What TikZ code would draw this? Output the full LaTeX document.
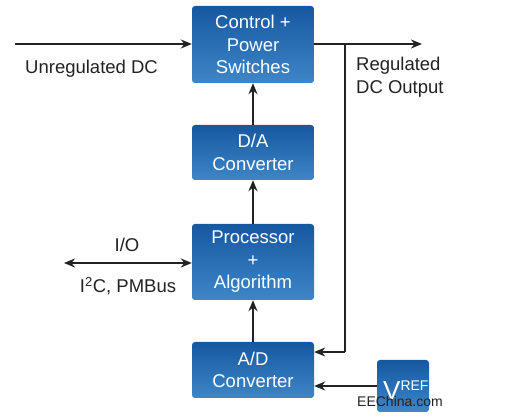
\documentclass[tikz,border=0pt]{standalone}
\usepackage{fontspec}
\setmainfont{Liberation Sans}
\usetikzlibrary{arrows.meta,positioning}
\definecolor{boxtop}{RGB}{22,88,160}
\definecolor{boxbot}{RGB}{62,134,200}
\definecolor{linec}{RGB}{34,34,34}
\tikzset{
  blk/.style={rounded corners=3pt, top color=boxtop, bottom color=boxbot, draw=none,
    text=white, align=center, minimum width=122pt, inner sep=0pt,
    font=\fontsize{18.5}{22.5}\selectfont},
  lbl/.style={text=linec, font=\fontsize{18.5}{22.5}\selectfont, inner sep=0pt},
  con/.style={draw=linec, line width=1.5pt, -{Stealth[length=11pt,width=9pt,inset=3.5pt]}},
  wire/.style={draw=linec, line width=1.5pt}
}
\begin{document}
\begin{tikzpicture}[x=1pt,y=-1pt]
\useasboundingbox (0,0) rectangle (525,419);
\node[blk, minimum height=77pt] (ctrl) at (253,44.5) {Control +\\Power\\Switches};
\node[blk, minimum height=55pt] (da) at (253,152.5) {D/A\\Converter};
\node[blk, minimum height=76pt] (proc) at (253,262) {Processor\\+\\Algorithm};
\node[blk, minimum height=56pt] (ad) at (253,370) {A/D\\Converter};
\node[blk, minimum width=52pt, minimum height=52pt] (vref) at (403,386) {};
\node[text=white, inner sep=0pt, anchor=base west] (vtxt) at (383,400) {\fontsize{26}{26}\selectfont V\raisebox{9pt}{\fontsize{14}{14}\selectfont REF}};
\node[lbl, anchor=base, font=\fontsize{14}{14}\selectfont] (wm) at (400,407) {EEChina.com};

\coordinate (inL) at (15,44);
\coordinate (outR) at (422,44);
\coordinate (tap) at (345,44);
\coordinate (tapB) at (345,352);
\coordinate (ioL) at (64,263);

\draw[con] (inL) -- (inL -| ctrl.west);
\draw[con] (ctrl.east |- outR) -- (outR);
\draw[wire] (tap) -- (tapB);
\draw[con] (tapB) -- (tapB -| ad.east);
\draw[con] (vref.west) -- (vref.west -| ad.east);
\draw[con] (da.north) -- (ctrl.south);
\draw[con] (proc.north) -- (da.south);
\draw[con] (ad.north) -- (proc.south);
\draw[con, {Stealth[length=11pt,width=9pt,inset=3.5pt]}-{Stealth[length=11pt,width=9pt,inset=3.5pt]}] (ioL) -- (ioL -| proc.west);

\node[lbl, anchor=base west] (unreg) at (25,74) {Unregulated DC};
\node[lbl, anchor=north west, align=left] (reg) at (356,57) {Regulated\\DC Output};
\node[lbl, anchor=base] (io) at (127,252) {I/O};
\node[lbl, anchor=base] (i2c) at (128,293) {I\textsuperscript{2}C, PMBus};
\end{tikzpicture}
\end{document}
